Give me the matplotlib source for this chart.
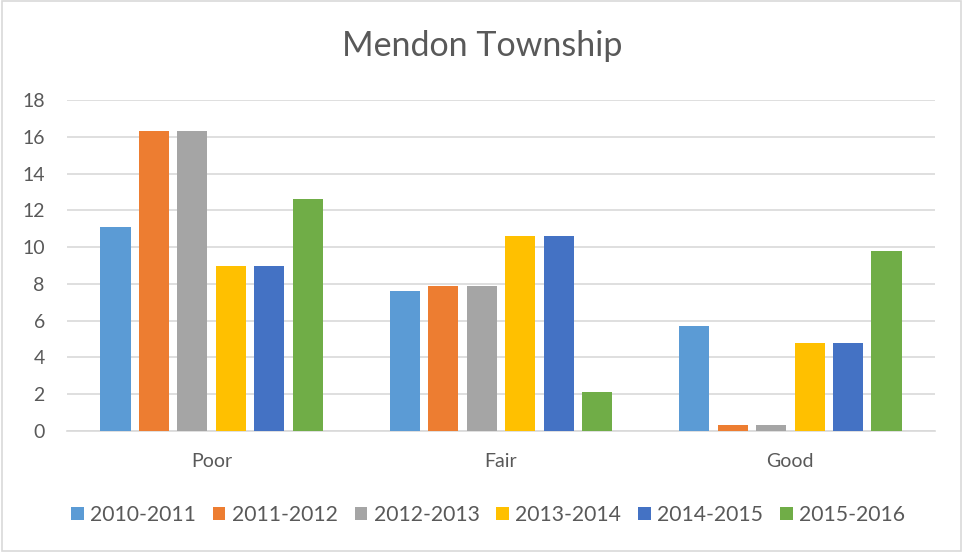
import matplotlib
matplotlib.use("Agg")
import matplotlib.pyplot as plt
import numpy as np
from matplotlib.patches import Rectangle

categories = ["Poor", "Fair", "Good"]
series_names = ["2010-2011", "2011-2012", "2012-2013", "2013-2014", "2014-2015", "2015-2016"]
s2010 = [11.1, 7.6, 5.7]
s2011 = [16.3, 7.9, 0.3]
s2012 = [16.3, 7.9, 0.3]
s2013 = [9.0, 10.6, 4.8]
s2014 = [9.0, 10.6, 4.8]
s2015 = [12.6, 2.1, 9.8]
series_values = [s2010, s2011, s2012, s2013, s2014, s2015]
colors = ["#5B9BD5", "#ED7D31", "#A5A5A5", "#FFC000", "#4472C4", "#70AD47"]
yticks = [0, 2, 4, 6, 8, 10, 12, 14, 16, 18]

plt.rcParams['font.family'] = ['Lato', 'DejaVu Sans']
fig = plt.figure(figsize=(9.63, 5.52), dpi=100)
ax = fig.add_axes([67/963, 1-431/552, (935-67)/963, (431-100)/552])

x = np.arange(len(categories))
pitch = 0.133
bw = 0.104
for i, (name, vals, c) in enumerate(zip(series_names, series_values, colors)):
    ax.bar(x + (i - 2.5) * pitch, vals, width=bw, color=c, label=name, zorder=3)

ax.set_xlim(-0.5, 2.5)
ax.set_ylim(0, 18)
ax.set_yticks(yticks)
ax.set_yticklabels([str(t) for t in yticks])
ax.set_xticks(x)
ax.set_xticklabels(categories)
ax.yaxis.grid(True, color="#D9D9D9", linewidth=1.2, zorder=0)
ax.set_axisbelow(True)
for s in ["top", "right", "left"]:
    ax.spines[s].set_visible(False)
ax.spines["bottom"].set_color("#D9D9D9")
ax.spines["bottom"].set_linewidth(1.2)
ax.tick_params(axis="both", length=0, labelsize=14, labelcolor="#595959")
ax.tick_params(axis="y", pad=16)
ax.tick_params(axis="x", pad=16)

fig.text(482/963, 1-46/552, "Mendon Township", ha="center", va="center", fontsize=24.5, color="#595959")

leg = fig.legend(loc="center", bbox_to_anchor=(488/963, 1-515/552), ncol=6, frameon=False,
                 fontsize=15.2, handlelength=0.6, handleheight=0.6, handletextpad=0.3,
                 columnspacing=0.8, labelcolor="#595959")

fig.patches.append(Rectangle((0.002, 0.002), 0.996, 0.996, transform=fig.transFigure,
                             fill=False, edgecolor="#D9D9D9", linewidth=1.2))

fig.savefig("out.png", dpi=100, facecolor="white")
